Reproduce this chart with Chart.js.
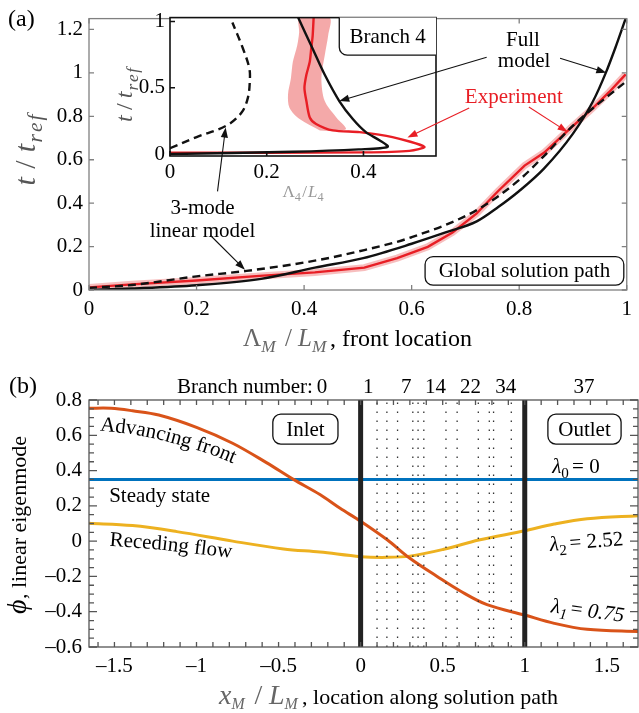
<!DOCTYPE html>
<html><head><meta charset="utf-8">
<script src="https://cdn.jsdelivr.net/npm/chart.js@4.4.0/dist/chart.umd.min.js"></script>
<style>
html,body{margin:0;padding:0;background:#fff}
body{width:639px;height:713px;position:relative;overflow:hidden}
canvas{position:absolute;left:0}
#cA,#cIn{top:0;width:639px;height:360px}
#cB{top:360px;width:639px;height:353px}
</style></head><body>
<canvas id="cA" width="639" height="360"></canvas>
<canvas id="cIn" width="639" height="360"></canvas>
<canvas id="cB" width="639" height="353"></canvas>
<script>
// ---------------- DATA ----------------
// Panel (a): global solution path, t/t_ref vs Lambda_M/L_M
const fullModelX = [0, 0.08, 0.2, 0.32, 0.42, 0.51, 0.6, 0.663, 0.721, 0.761, 0.8, 0.846, 0.9, 0.937, 0.961, 0.979, 1.0];
const fullModelT = [0, 0.007, 0.022, 0.051, 0.103, 0.147, 0.213, 0.265, 0.316, 0.382, 0.456, 0.559, 0.72, 0.868, 1.0, 1.117, 1.265];
const linModelX = [0, 0.08, 0.2, 0.293, 0.42, 0.512, 0.6, 0.721, 0.8, 0.846, 0.9, 1.0];
const linModelT = [0.01, 0.023, 0.063, 0.088, 0.135, 0.184, 0.243, 0.368, 0.507, 0.617, 0.757, 0.963];
const expX = [0, 0.08, 0.2, 0.324, 0.42, 0.512, 0.573, 0.63, 0.676, 0.721, 0.761, 0.81, 0.846, 0.894, 0.937, 0.967, 0.998];
const expT = [0.012, 0.026, 0.044, 0.066, 0.081, 0.103, 0.147, 0.199, 0.265, 0.353, 0.456, 0.573, 0.632, 0.742, 0.838, 0.911, 0.993];
// Inset: branch 4, t/t_ref vs Lambda_4/L_4
const insetFullX = [0, 0.254, 0.39, 0.45, 0.433, 0.405, 0.378, 0.35, 0.32, 0.295, 0.265];
const insetFullT = [0, 0.017, 0.035, 0.054, 0.104, 0.165, 0.264, 0.4, 0.598, 0.795, 1.03];
const insetLinX = [0, 0.055, 0.117, 0.148, 0.161, 0.165, 0.164, 0.151, 0.129];
const insetLinT = [0.044, 0.128, 0.215, 0.313, 0.424, 0.548, 0.647, 0.795, 0.993];
const insetExpX = [0, 0.2, 0.4, 0.495, 0.526, 0.46, 0.392, 0.337, 0.302, 0.289, 0.282, 0.278, 0.282, 0.289, 0.292, 0.295, 0.297];
const insetExpT = [0.01, 0.01, 0.012, 0.024, 0.054, 0.128, 0.165, 0.178, 0.227, 0.276, 0.4, 0.499, 0.598, 0.696, 0.795, 0.894, 1.03];
const insetBandX = [0.31, 0.268, 0.247, 0.244, 0.25, 0.254, 0.263, 0.267, 0.268, 0.33, 0.327, 0.32, 0.313, 0.32, 0.344, 0.364, 0.345];
const insetBandT = [0.178, 0.264, 0.35, 0.45, 0.573, 0.696, 0.82, 0.918, 1.03, 1.03, 0.894, 0.746, 0.573, 0.4, 0.276, 0.19, 0.17];
// Panel (b): linear eigenmodes vs x_M/L_M
const phi1X = [-1.66, -1.52, -1.39, -1.23, -1.0, -0.78, -0.574, -0.41, -0.248, -0.125, 0, 0.16, 0.30, 0.466, 0.61, 0.77, 1.0, 1.18, 1.38, 1.70];
const phi1 = [0.753, 0.753, 0.739, 0.715, 0.645, 0.555, 0.445, 0.35, 0.264, 0.186, 0.113, 0.009, -0.097, -0.2, -0.284, -0.36, -0.419, -0.466, -0.5, -0.513];
const phi2X = [-1.66, -1.39, -1.12, -0.78, -0.47, -0.248, 0, 0.16, 0.30, 0.507, 0.72, 1.0, 1.18, 1.38, 1.70];
const phi2 = [0.101, 0.088, 0.054, 0.0, -0.044, -0.062, -0.088, -0.092, -0.085, -0.046, 0.006, 0.059, 0.097, 0.127, 0.145];
const phi0X = [-1.66, 1.70];
const phi0 = [0.35, 0.35];
const domainEdges = [0, 1];
const branchBounds = [0.10, 0.16, 0.225, 0.318, 0.35, 0.385, 0.52, 0.588, 0.717, 0.784, 0.81, 0.918];
const branchLabels = ['0', '1', '7', '14', '22', '34', '37'];
const branchLabelX = [-0.236, 0.046, 0.278, 0.456, 0.67, 0.884, 1.361];
// tick labels
const aXTicks = [0, 0.2, 0.4, 0.6, 0.8, 1];
const aYTicks = [0, 0.2, 0.4, 0.6, 0.8, 1, 1.2];
const inXTicks = [0, 0.2, 0.4];
const inYTicks = [0, 0.5, 1];
const bXTicks = [-1.5, -1, -0.5, 0, 0.5, 1, 1.5];
const bYTicks = [-0.6, -0.4, -0.2, 0, 0.2, 0.4, 0.6, 0.8];
const bYMin = -0.6, bYMax = 0.8;

// ---------------- HELPERS ----------------
const FONT = '"Liberation Serif", "Times New Roman", serif';
Chart.defaults.font.family = FONT;
Chart.defaults.animation = false;
Chart.defaults.events = [];
Chart.defaults.plugins.legend.display = false;
Chart.defaults.plugins.tooltip.enabled = false;
const pts = (xs, ys) => xs.map((x, i) => ({x, y: ys[i]}));
const fnt = (s, it) => (it ? 'italic ' : '') + s + 'px ' + FONT;
const fmt = v => String(v).replace('-', '\u2013');

function richWidth(ctx, parts, size) {
  let w = 0;
  for (const p of parts) { ctx.font = fnt(p.sub ? size * 0.72 : (p.size || size), p.it); w += ctx.measureText(p.t).width + (p.sp || 0) * size; }
  return w;
}
function drawRich(ctx, parts, x, y, size, o = {}) {
  ctx.save();
  ctx.translate(x, y);
  if (o.rot) ctx.rotate(o.rot);
  const w = richWidth(ctx, parts, size);
  let cx = o.align === 'center' ? -w / 2 : o.align === 'right' ? -w : 0;
  ctx.textBaseline = 'alphabetic'; ctx.textAlign = 'left';
  for (const p of parts) {
    const s = p.sub ? size * 0.72 : (p.size || size);
    ctx.font = fnt(s, p.it);
    ctx.fillStyle = p.color || o.color || '#000';
    ctx.fillText(p.t, cx, p.sub ? size * 0.24 : 0);
    cx += ctx.measureText(p.t).width + (p.sp || 0) * size;
  }
  ctx.restore();
}
function textOnPath(ctx, text, path, size, color) {
  const seg = []; let total = 0;
  for (let i = 1; i < path.length; i++) {
    const dx = path[i][0] - path[i - 1][0], dy = path[i][1] - path[i - 1][1], l = Math.hypot(dx, dy);
    seg.push({x: path[i - 1][0], y: path[i - 1][1], dx, dy, l, s: total}); total += l;
  }
  ctx.save(); ctx.font = fnt(size); ctx.fillStyle = color; ctx.textAlign = 'center'; ctx.textBaseline = 'alphabetic';
  let d = 0;
  for (const ch of text) {
    const w = ctx.measureText(ch).width, m = d + w / 2;
    let sg = seg[seg.length - 1];
    for (const s of seg) if (m >= s.s && m <= s.s + s.l) { sg = s; break; }
    const t = (m - sg.s) / sg.l;
    ctx.save(); ctx.translate(sg.x + sg.dx * t, sg.y + sg.dy * t); ctx.rotate(Math.atan2(sg.dy, sg.dx)); ctx.fillText(ch, 0, 0); ctx.restore();
    d += w;
  }
  ctx.restore();
}
function arrow(ctx, x1, y1, x2, y2, color) {
  const a = Math.atan2(y2 - y1, x2 - x1), L = 10, W = 3.6, c = Math.cos(a), s = Math.sin(a);
  ctx.save(); ctx.strokeStyle = color; ctx.fillStyle = color; ctx.lineWidth = 1.1;
  ctx.beginPath(); ctx.moveTo(x1, y1); ctx.lineTo(x2 - c * L * 0.8, y2 - s * L * 0.8); ctx.stroke();
  ctx.beginPath(); ctx.moveTo(x2, y2);
  ctx.lineTo(x2 - L * c + W * s, y2 - L * s - W * c); ctx.lineTo(x2 - L * c - W * s, y2 - L * s + W * c);
  ctx.closePath(); ctx.fill(); ctx.restore();
}
function rrect(ctx, x0, y0, x1, y1, r) {
  ctx.beginPath(); ctx.moveTo(x0 + r, y0); ctx.lineTo(x1 - r, y0); ctx.arcTo(x1, y0, x1, y0 + r, r);
  ctx.lineTo(x1, y1 - r); ctx.arcTo(x1, y1, x1 - r, y1, r); ctx.lineTo(x0 + r, y1); ctx.arcTo(x0, y1, x0, y1 - r, r);
  ctx.lineTo(x0, y0 + r); ctx.arcTo(x0, y0, x0 + r, y0, r); ctx.closePath();
}
function labelBox(ctx, x0, y0, x1, y1, text, size) {
  ctx.save(); rrect(ctx, x0, y0, x1, y1, 8); ctx.fillStyle = '#fff'; ctx.fill();
  ctx.strokeStyle = '#111'; ctx.lineWidth = 1.3; ctx.stroke();
  ctx.font = fnt(size); ctx.fillStyle = '#000'; ctx.textAlign = 'center'; ctx.textBaseline = 'middle';
  ctx.fillText(text, (x0 + x1) / 2, (y0 + y1) / 2 + 1); ctx.restore();
}
function frameTicks(chart, o) {
  const {ctx, chartArea: a, scales: {x: sx, y: sy}} = chart;
  ctx.save(); ctx.strokeStyle = o.color; ctx.lineWidth = o.lw; ctx.beginPath();
  for (const [v, len] of o.xt) {
    const p = sx.getPixelForValue(v);
    ctx.moveTo(p, a.bottom); ctx.lineTo(p, a.bottom - len);
    if (o.top) { ctx.moveTo(p, a.top); ctx.lineTo(p, a.top + len); }
  }
  for (const [v, len] of o.yt) {
    const p = sy.getPixelForValue(v);
    ctx.moveTo(a.left, p); ctx.lineTo(a.left + len, p);
    if (o.right) { ctx.moveTo(a.right, p); ctx.lineTo(a.right - len, p); }
  }
  ctx.stroke();
  ctx.strokeRect(a.left, a.top, a.right - a.left, a.bottom - a.top);
  ctx.restore();
}
function axisOpts(min, max, ticks, fit, pad, size) {
  return {
    type: 'linear', min, max,
    afterBuildTicks: s => { s.ticks = ticks.map(v => ({value: v})); },
    afterFit: fit,
    grid: {display: false, drawTicks: false}, border: {display: false},
    ticks: {font: {size}, color: '#000', padding: pad, autoSkip: false, maxRotation: 0, callback: v => fmt(v)}
  };
}
const line = (data, color, width, extra = {}) => Object.assign({data, showLine: true, borderColor: color, borderWidth: width, pointRadius: 0, fill: false}, extra);
const tRef = (sp) => [{t: 't', it: 1, sp}, {t: '/', sp}, {t: 't', it: 1, sp: 0.04},
  {t: 'r', it: 1, sub: 1, sp: 0.07}, {t: 'e', it: 1, sub: 1, sp: 0.07}, {t: 'f', it: 1, sub: 1}];

// ---------------- PANEL (a) main ----------------
const chartA = new Chart(document.getElementById('cA'), {
  type: 'scatter',
  data: {datasets: [
    line(pts(linModelX, linModelT), '#111', 2.4, {borderDash: [8, 5], cubicInterpolationMode: 'monotone'}),
    line(pts(fullModelX, fullModelT), '#111', 2.4, {cubicInterpolationMode: 'monotone'}),
    line(pts(expX, expT), '#E81E25', 2.4),
    line(pts(expX, expT), 'rgba(238,110,110,0.45)', 7)
  ]},
  options: {
    responsive: false, devicePixelRatio: 1,
    layout: {padding: {left: 0, right: 1, top: 7, bottom: 15}},
    scales: {
      x: axisOpts(0, 1, aXTicks, s => { s.height = 55; }, 7, 21),
      y: axisOpts(0, 1.25, aYTicks, s => { s.width = 89; }, 6, 21)
    }
  },
  plugins: [{
    id: 'frameA',
    afterDraw(chart) {
      const ctx = chart.ctx;
      frameTicks(chart, {color: '#808080', lw: 1.3, top: true, right: true,
        xt: aXTicks.map(v => [v, 5]), yt: aYTicks.map(v => [v, 5])});
      drawRich(ctx, tRef(0.28), 35, 150, 30, {align: 'center', rot: -Math.PI / 2, color: '#555'});
      drawRich(ctx, [{t: '\u039B', size: 25}, {t: 'M', it: 1, sub: 1, sp: 0.4}, {t: '/', size: 25, sp: 0.25},
        {t: 'L', it: 1, size: 25}, {t: 'M', it: 1, sub: 1, sp: 0.15}, {t: ', front location', color: '#000'}],
        243, 346, 24, {color: '#666'});
      ctx.save(); ctx.font = fnt(24); ctx.fillStyle = '#000'; ctx.fillText('(a)', 8, 26); ctx.restore();
    }
  }]
});

// ---------------- PANEL (a) inset + annotations ----------------
const chartIn = new Chart(document.getElementById('cIn'), {
  type: 'scatter',
  data: {datasets: [
    line(pts(insetLinX, insetLinT), '#111', 2.4, {borderDash: [8, 5], tension: 0.35}),
    line(pts(insetFullX, insetFullT), '#111', 2.4, {tension: 0.3}),
    line(pts(insetExpX, insetExpT), '#E81E25', 2.4, {tension: 0.25}),
    line(pts(insetBandX, insetBandT), 'rgba(0,0,0,0)', 0.01, {fill: 'shape', backgroundColor: 'rgba(243,160,160,0.9)', tension: 0.3})
  ]},
  options: {
    responsive: false, devicePixelRatio: 1,
    layout: {padding: {left: 100, right: 203, top: 15, bottom: 160}},
    scales: {
      x: axisOpts(0, 0.55, inXTicks, s => { s.height = 44; }, 4, 21),
      y: axisOpts(-0.015, 1.03, inYTicks, s => { s.width = 70; }, 5, 21)
    }
  },
  plugins: [{
    id: 'insetAnn',
    beforeDatasetsDraw(chart) {
      const {ctx, chartArea: a} = chart;
      ctx.save(); ctx.fillStyle = '#fff'; ctx.fillRect(a.left, a.top, a.right - a.left, a.bottom - a.top); ctx.restore();
    },
    afterDraw(chart) {
      const ctx = chart.ctx, a = chart.chartArea;
      frameTicks(chart, {color: '#111', lw: 1.6, top: false, right: false,
        xt: inXTicks.map(v => [v, 5]), yt: inYTicks.map(v => [v, 5])});
      const ix = v => chart.scales.x.getPixelForValue(v), iy = v => chart.scales.y.getPixelForValue(v);
      const mx = v => chartA.scales.x.getPixelForValue(v), my = v => chartA.scales.y.getPixelForValue(v);
      // Branch 4 tag
      ctx.save();
      const bx0 = ix(0.35), by1 = iy(0.746), r = 8;
      ctx.beginPath(); ctx.moveTo(bx0, a.top); ctx.lineTo(bx0, by1 - r); ctx.arcTo(bx0, by1, bx0 + r, by1, r); ctx.lineTo(a.right, by1);
      ctx.lineTo(a.right, a.top); ctx.closePath(); ctx.fillStyle = '#fff'; ctx.fill();
      ctx.beginPath(); ctx.moveTo(bx0, a.top); ctx.lineTo(bx0, by1 - r); ctx.arcTo(bx0, by1, bx0 + r, by1, r); ctx.lineTo(a.right, by1);
      ctx.strokeStyle = '#111'; ctx.lineWidth = 1.3; ctx.stroke();
      ctx.font = fnt(21); ctx.fillStyle = '#000'; ctx.textAlign = 'center'; ctx.textBaseline = 'middle';
      ctx.fillText('Branch 4', (bx0 + a.right) / 2, (a.top + by1) / 2 + 1);
      ctx.restore();
      // inset axis titles
      drawRich(ctx, tRef(0.22), 132, 95, 24, {align: 'center', rot: -Math.PI / 2, color: '#555'});
      drawRich(ctx, [{t: '\u039B'}, {t: '4', sub: 1, sp: 0.08}, {t: '/', sp: 0.06}, {t: 'L', it: 1}, {t: '4', sub: 1}],
        303, 197, 17, {align: 'center', color: '#999'});
      // labels & arrows
      ctx.save(); ctx.font = fnt(21); ctx.textAlign = 'center'; ctx.textBaseline = 'alphabetic'; ctx.fillStyle = '#000';
      ctx.fillText('Full', mx(0.807), my(1.156) + 7);
      ctx.fillText('model', mx(0.809), my(1.059) + 7);
      ctx.fillText('3-mode', mx(0.211), my(0.384) + 7);
      ctx.fillText('linear model', mx(0.211), my(0.278) + 7);
      ctx.fillStyle = '#E81E25';
      ctx.fillText('Experiment', mx(0.79), my(0.895) + 7);
      ctx.restore();
      arrow(ctx, mx(0.876), my(1.067), mx(0.962), my(1.001), '#111');
      arrow(ctx, mx(0.7395), my(1.072), ix(0.35), iy(0.4), '#111');
      arrow(ctx, mx(0.818), my(0.843), mx(0.89), my(0.728), '#E81E25');
      arrow(ctx, mx(0.707), my(0.838), ix(0.491), iy(0.125), '#E81E25');
      arrow(ctx, mx(0.239), my(0.454), ix(0.115), iy(0.2), '#111');
      arrow(ctx, mx(0.226), my(0.251), mx(0.29), my(0.093), '#111');
      labelBox(ctx, mx(0.625), my(0.154), mx(0.9945), my(0.022), 'Global solution path', 21);
    }
  }]
});

// ---------------- PANEL (b) ----------------
const B_TOP = 360; // canvas offset on the page
const bDatasets = [
  ...domainEdges.map(x => line([{x, y: bYMin}, {x, y: bYMax}], '#222', 5)),
  ...branchBounds.map(x => line([{x, y: bYMin}, {x, y: bYMax}], '#333', 1.3, {borderDash: [1.6, 7.4]})),
  line(pts(phi1X, phi1), '#D95319', 3, {tension: 0.35}),
  line(pts(phi0X, phi0), '#0072BD', 3),
  line(pts(phi2X, phi2), '#EDB120', 3, {tension: 0.35})
];
const bMinorX = []; for (let i = -16; i <= 16; i++) bMinorX.push([i / 10, 5]);
const bMinorY = []; for (let i = -12; i <= 16; i++) bMinorY.push([i * 0.05, i % 4 === 0 ? 8 : 5]);
const chartB = new Chart(document.getElementById('cB'), {
  type: 'scatter',
  data: {datasets: bDatasets},
  options: {
    responsive: false, devicePixelRatio: 1,
    layout: {padding: {left: 0, right: 1, top: 400 - B_TOP, bottom: 26}},
    scales: {
      x: axisOpts(-1.655, 1.69, bXTicks, s => { s.height = 40; }, 7, 21),
      y: axisOpts(bYMin, bYMax, bYTicks, s => { s.width = 89; }, 7, 21)
    }
  },
  plugins: [{
    id: 'annB',
    afterDraw(chart) {
      const ctx = chart.ctx, a = chart.chartArea;
      const bx = v => chart.scales.x.getPixelForValue(v), by = v => chart.scales.y.getPixelForValue(v);
      frameTicks(chart, {color: '#555', lw: 1.3, top: true, right: true, xt: bMinorX, yt: bMinorY});
      // branch numbers
      ctx.save(); ctx.font = fnt(21); ctx.fillStyle = '#000'; ctx.textBaseline = 'alphabetic';
      ctx.textAlign = 'center';
      branchLabels.forEach((t, i) => ctx.fillText(t, bx(branchLabelX[i]), a.top - 7));
      ctx.textAlign = 'right';
      ctx.fillText('Branch number:', bx(branchLabelX[0]) - 9, a.top - 7);
      ctx.textAlign = 'left';
      ctx.fillText('Steady state', bx(-1.532), by(0.222));
      ctx.restore();
      textOnPath(ctx, 'Advancing front',
        [[-1.59, 0.627], [-1.39, 0.607], [-1.226, 0.577], [-1.063, 0.535], [-0.9, 0.488], [-0.767, 0.437], [-0.6, 0.37]].map(p => [bx(p[0]), by(p[1])]), 21, '#000');
      textOnPath(ctx, 'Receding flow',
        [[-1.532, -0.026], [-1.2, -0.05], [-0.798, -0.093], [-0.6, -0.11]].map(p => [bx(p[0]), by(p[1])]), 21, '#000');
      labelBox(ctx, bx(-0.535), by(0.72), bx(-0.138), by(0.55), 'Inlet', 21);
      labelBox(ctx, bx(1.141), by(0.72), bx(1.587), by(0.55), 'Outlet', 21);
      drawRich(ctx, [{t: '\u03BB', it: 1}, {t: '0', sub: 1, sp: 0.15}, {t: '= 0'}], bx(1.312), by(0.386), 21, {align: 'center'});
      drawRich(ctx, [{t: '\u03BB', it: 1}, {t: '2', sub: 1, sp: 0.15}, {t: '= 2.52'}], bx(1.379), by(-0.039), 21, {align: 'center', rot: -0.08});
      drawRich(ctx, [{t: '\u03BB', it: 1}, {t: '1', sub: 1, it: 1, sp: 0.15}, {t: '= '}, {t: '0.75', it: 1}], bx(1.379), by(-0.43), 21, {align: 'center', rot: 0.13});
      // axis titles
      drawRich(ctx, [{t: 'x', it: 1, size: 28}, {t: 'M', it: 1, sub: 1, sp: 0.45}, {t: '/', size: 28, sp: 0.3},
        {t: 'L', it: 1, size: 28}, {t: 'M', it: 1, sub: 1, sp: 0.2}, {t: ', location along solution path', color: '#000'}],
        219, 704 - B_TOP, 22, {color: '#666'});
      drawRich(ctx, [{t: '\u03D5', it: 1, size: 28, sp: 0.02}, {t: ', linear eigenmode'}],
        26, 525 - B_TOP, 22, {align: 'center', rot: -Math.PI / 2});
      ctx.save(); ctx.font = fnt(24); ctx.fillStyle = '#000'; ctx.fillText('(b)', 9, 393 - B_TOP); ctx.restore();
    }
  }]
});
</script>
</body></html>
